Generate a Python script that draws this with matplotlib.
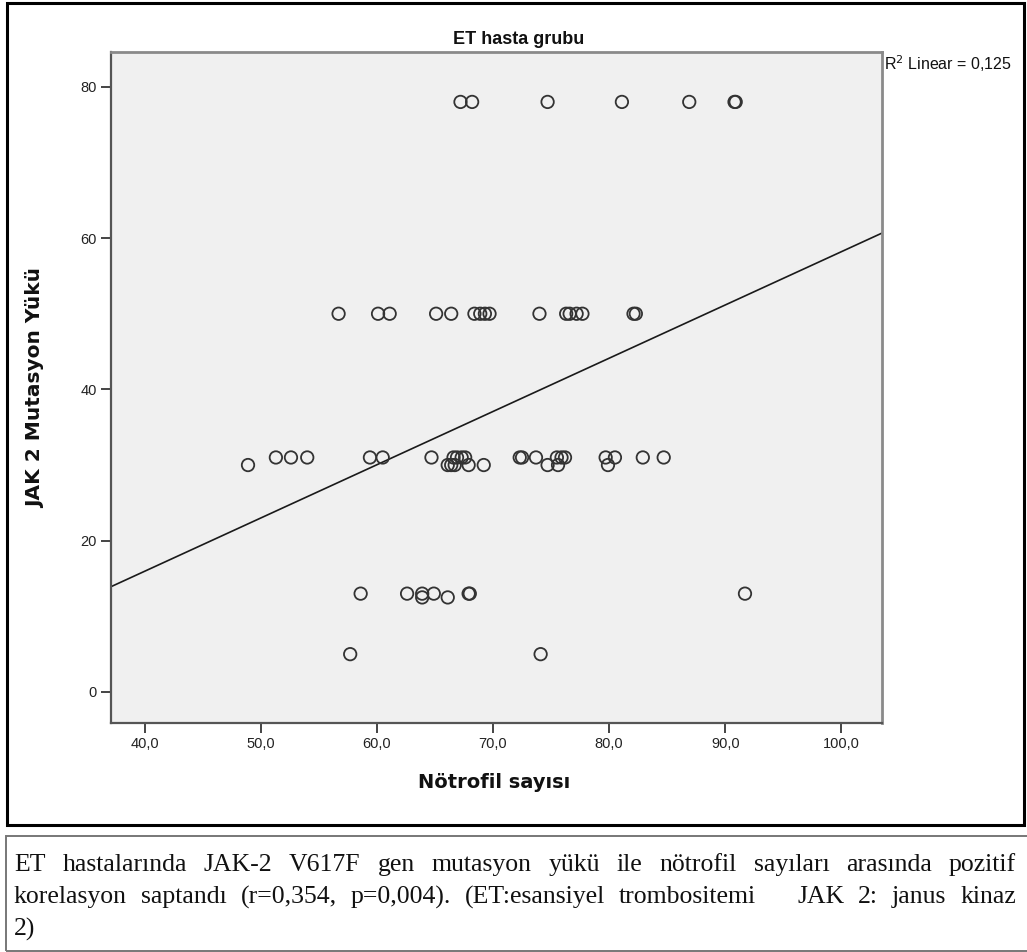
import numpy as np
import matplotlib
matplotlib.use("Agg")
import matplotlib.pyplot as plt
from matplotlib.patches import Rectangle
from matplotlib import font_manager

# ---------------- data ----------------
neutrophil = [
    # JAK2 ~78
    67.2, 68.2, 74.7, 81.1, 86.9, 90.8, 90.9,
    # ~50
    56.7, 60.1, 61.1, 65.1, 66.4, 68.4, 68.9, 69.3, 69.7, 74.0,
    76.3, 76.6, 77.2, 77.7, 82.1, 82.3,
    # ~31
    51.3, 52.6, 54.0, 59.4, 60.5, 64.7, 66.6, 66.9, 67.3, 67.6,
    72.3, 72.5, 73.7, 75.5, 75.9, 76.2, 79.7, 80.5, 82.9, 84.7,
    # ~30
    48.9, 66.1, 66.4, 66.7, 67.9, 69.2, 74.7, 75.6, 79.9,
    # ~13
    58.6, 62.6, 63.9, 64.9, 67.9, 68.0, 91.7,
    # ~12.5
    63.9, 66.1,
    # ~5
    57.7, 74.1,
]
jak2_load = (
    [78] * 7
    + [50] * 16
    + [31] * 20
    + [30] * 9
    + [13] * 7
    + [12.5] * 2
    + [5] * 2
)
fit_intercept = -12.2
fit_slope = 0.704
r2_text = "0,125"

x_ticks = [40, 50, 60, 70, 80, 90, 100]
x_ticklabels = ["40,0", "50,0", "60,0", "70,0", "80,0", "90,0", "100,0"]
y_ticks = [0, 20, 40, 60, 80]
y_ticklabels = ["0", "20", "40", "60", "80"]
x_limits = (37.1, 103.5)
y_limits = (-4.1, 84.6)

title = "ET hasta grubu"
x_label = "Nötrofil sayısı"
y_label = "JAK 2 Mutasyon Yükü"
caption_lines = [
    ["ET", "hastalarında", "JAK-2", "V617F", "gen", "mutasyon", "yükü", "ile",
     "nötrofil", "sayıları", "arasında", "pozitif"],
    ["korelasyon", "saptandı", "(r=0,354,", "p=0,004).", "(ET:esansiyel",
     "trombositemi", "\t", "JAK", "2:", "janus", "kinaz"],
    ["2)"],
]

available = {f.name for f in font_manager.fontManager.ttflist}
narrow = "Liberation Sans Narrow" if "Liberation Sans Narrow" in available else "Liberation Sans"
narrow_ok = narrow == "Liberation Sans Narrow"

# ---------------- figure ----------------
W, H = 1027, 952
fig = plt.figure(figsize=(W / 100, H / 100), dpi=100)
fig.patch.set_facecolor("white")


def fx(px):
    return px / W


def fy(py):
    return 1 - py / H


# outer black frame around chart
fig.add_artist(Rectangle((fx(7), fy(825)), fx(1024) - fx(7), fy(3) - fy(825),
                         transform=fig.transFigure, fill=False,
                         edgecolor="black", linewidth=2.2))
# caption box
fig.add_artist(Rectangle((fx(6), fy(951)), fx(1030) - fx(6), fy(836) - fy(951),
                         transform=fig.transFigure, fill=False,
                         edgecolor="#777777", linewidth=1.4))

left, right, top, bottom = 111, 882, 52, 723
ax = fig.add_axes([fx(left), fy(bottom), fx(right) - fx(left), fy(top) - fy(bottom)])
ax.set_facecolor("#F0F0F0")
ax.set_xlim(*x_limits)
ax.set_ylim(*y_limits)

ax.scatter(neutrophil, jak2_load, s=80, facecolors="none",
           edgecolors="#333333", linewidths=1.3, zorder=3)

xs = np.array(x_limits)
ax.plot(xs, fit_intercept + fit_slope * xs, color="#1a1a1a", linewidth=1.2, zorder=2)

for side in ["left", "bottom"]:
    ax.spines[side].set_color("#555555")
    ax.spines[side].set_linewidth(1.6)
for side in ["top", "right"]:
    ax.spines[side].set_color("#8a8a8a")
    ax.spines[side].set_linewidth(2.0)

ax.set_xticks(x_ticks)
ax.set_xticklabels(x_ticklabels)
ax.set_yticks(y_ticks)
ax.set_yticklabels(y_ticklabels)
ax.tick_params(axis="both", direction="out", length=7, width=1.4, color="#444444",
               labelsize=10.5, labelcolor="#222222", pad=3)
for lab in ax.get_xticklabels() + ax.get_yticklabels():
    lab.set_family("Liberation Sans")

fig.text(fx(519), fy(39), title, ha="center", va="center",
         fontsize=15 if narrow_ok else 13,
         fontweight="bold", family=narrow, color="#111111")
fig.text(fx(884), fy(64), "R$^2$ Linear = " + r2_text, ha="left", va="center",
         fontsize=13 if narrow_ok else 11.5, family=narrow, color="#111111")
fig.text(fx(494), fy(782), x_label, ha="center", va="center", fontsize=14,
         fontweight="bold", family="DejaVu Sans", color="#111111")
fig.text(fx(36), fy(388), y_label, ha="center", va="center", rotation=90,
         fontsize=14.5, fontweight="bold", family="DejaVu Sans", color="#111111")

# ---------------- justified caption ----------------
cap_font = dict(fontsize=18.5, family="Liberation Serif", color="#111111")
renderer = fig.canvas.get_renderer()


def width_px(s):
    t = fig.text(0, 0, s, **cap_font)
    w = t.get_window_extent(renderer).width
    t.remove()
    return w


x0, x1 = 14, 1016
line_y = [865, 897, 929]
for i, words in enumerate(caption_lines):
    real = [w for w in words if w != "\t"]
    widths = [width_px(w) for w in real]
    justify = i < len(caption_lines) - 1
    gaps = []
    for j, w in enumerate(words[:-1]):
        if w == "\t":
            continue
        nxt = words[j + 1]
        gaps.append(3.0 if nxt == "\t" else 1.0)
    if justify and gaps:
        unit = (x1 - x0 - sum(widths)) / sum(gaps)
    else:
        unit = width_px("a b") - width_px("ab")
    x = x0
    for k, w in enumerate(real):
        fig.text(fx(x), fy(line_y[i]), w, ha="left", va="center", **cap_font)
        x += widths[k]
        if k < len(gaps):
            x += unit * gaps[k]

fig.savefig("out.png", dpi=100)
